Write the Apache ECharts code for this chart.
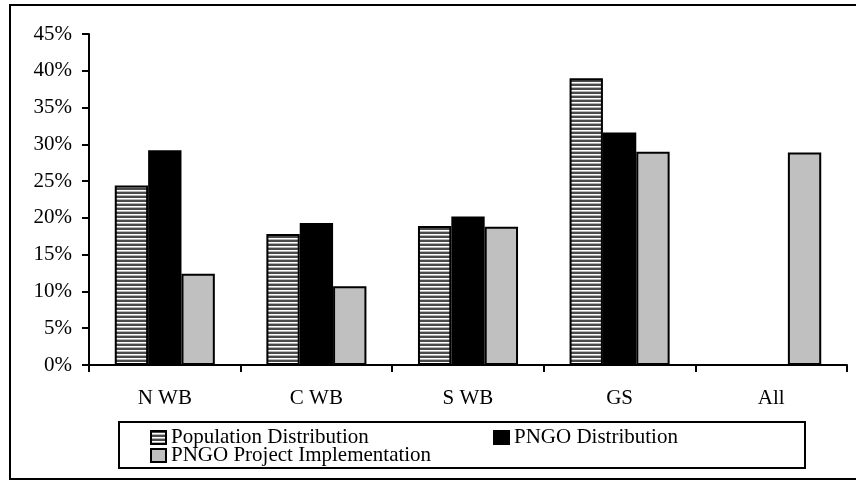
<!DOCTYPE html>
<html>
<head>
<meta charset="utf-8">
<script src="https://cdn.jsdelivr.net/npm/echarts@6/dist/echarts.min.js"></script>
<style>
  html, body { margin: 0; padding: 0; background: #fff; }
  #chart { width: 856px; height: 480px; }
</style>
</head>
<body>
<div id="chart"></div>
<script>
// data
const regions = ['N WB', 'C WB', 'S WB', 'GS', 'All']
const popDistribution = [24.4, 17.8, 18.9, 39.0, null]
const pngoDistribution = [29.2, 19.3, 20.2, 31.6, null]
const pngoImplementation = [12.4, 10.7, 18.8, 29.0, 28.9]
const seriesNames = ['Population Distribution', 'PNGO Distribution', 'PNGO Project Implementation']

const FONT = '"Liberation Serif", "Times New Roman", serif'

// horizontal stripe fill for the population bars
function stripes() {
  const c = document.createElement('canvas')
  c.width = 8
  c.height = 4
  const ctx = c.getContext('2d')
  ctx.fillStyle = '#ffffff'
  ctx.fillRect(0, 0, 8, 4)
  ctx.fillStyle = '#4a4a4a'
  ctx.fillRect(0, 0, 8, 2)
  ctx.fillStyle = '#b4b4b4'
  ctx.fillRect(0, 3, 8, 1)
  return { image: c, repeat: 'repeat' }
}

const chart = echarts.init(document.getElementById('chart'), null, { renderer: 'canvas' })

const legendText = { fontFamily: FONT, fontSize: 21, color: '#000' }
const legendBase = {
  orient: 'horizontal',
  icon: 'rect',
  itemWidth: 15,
  itemHeight: 13,
  itemGap: 0,
  padding: 0,
  textStyle: legendText,
  selectedMode: false,
}

const barBorder = { borderColor: '#000', borderWidth: 2 }

chart.setOption({
  animation: false,
  backgroundColor: '#fff',
  grid: { left: 89, right: 9, top: 34, bottom: 115, containLabel: false },
  xAxis: {
    type: 'category',
    data: regions,
    axisLine: { lineStyle: { color: '#000', width: 2 } },
    axisTick: { show: true, inside: false, length: 7, lineStyle: { color: '#000', width: 2 } },
    axisLabel: { fontFamily: FONT, fontSize: 21, color: '#000', margin: 23 },
  },
  yAxis: {
    type: 'value',
    min: 0,
    max: 45,
    interval: 5,
    axisLine: { show: true, lineStyle: { color: '#000', width: 2 } },
    axisTick: { show: true, inside: false, length: 7, lineStyle: { color: '#000', width: 2 } },
    splitLine: { show: false },
    axisLabel: {
      fontFamily: FONT, fontSize: 21, color: '#000', margin: 17,
      formatter: v => v + '%',
    },
  },
  legend: [
    Object.assign({}, legendBase, { left: 150, top: 427, data: [seriesNames[0]] }),
    Object.assign({}, legendBase, { left: 493, top: 427, data: [seriesNames[1]] }),
    Object.assign({}, legendBase, { left: 150, top: 445, data: [seriesNames[2]] }),
  ],
  graphic: [
    // outer chart frame
    { type: 'rect', shape: { x: 10, y: 5, width: 860, height: 474 }, style: { fill: null, stroke: '#000', lineWidth: 2 }, z: -1 },
    // legend box
    { type: 'rect', shape: { x: 119, y: 422, width: 686, height: 46 }, style: { fill: null, stroke: '#000', lineWidth: 2 }, z: -1 },
  ],
  series: [
    {
      name: seriesNames[0],
      type: 'bar',
      data: popDistribution,
      barGap: '0%',
      barCategoryGap: '34%',
      itemStyle: Object.assign({ color: stripes() }, barBorder),
    },
    {
      name: seriesNames[1],
      type: 'bar',
      data: pngoDistribution,
      barGap: '0%',
      barCategoryGap: '34%',
      itemStyle: Object.assign({ color: '#000' }, barBorder),
    },
    {
      name: seriesNames[2],
      type: 'bar',
      data: pngoImplementation,
      barGap: '0%',
      barCategoryGap: '34%',
      itemStyle: Object.assign({ color: '#c0c0c0' }, barBorder),
    },
  ],
})
</script>
</body>
</html>
